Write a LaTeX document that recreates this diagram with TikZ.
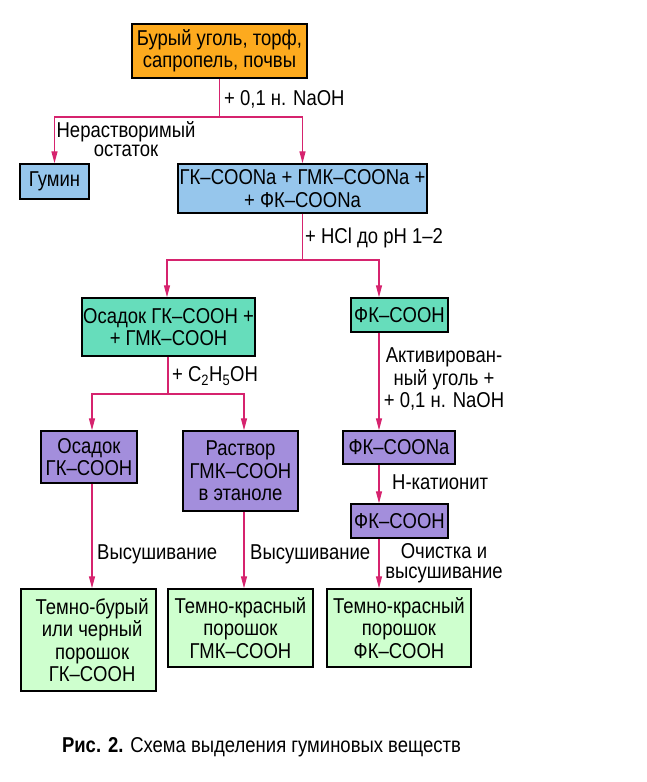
\documentclass[tikz,border=0pt]{standalone}
\usepackage{fontspec}
\setmainfont{Liberation Sans}[FakeStretch=0.86]
\usepackage{tikz}
\usetikzlibrary{arrows.meta}
\usepackage{xcolor}
\definecolor{srcorange}{RGB}{253,170,30}
\definecolor{saltblue}{RGB}{150,198,236}
\definecolor{acidteal}{RGB}{102,221,187}
\definecolor{stagepurple}{RGB}{163,142,220}
\definecolor{powdergreen}{RGB}{206,255,206}
\definecolor{flowred}{RGB}{214,35,110}

\begin{document}
\begin{tikzpicture}[x=1pt,y=-1pt,
    every node/.style={font=\fontsize{21.5pt}{22.3pt}\selectfont},
    box/.style={draw=black,line width=1.4pt,align=center,inner sep=0pt},
    flow/.style={draw=flowred,line width=1.3pt},
    flowarrow/.style={flow,-{Triangle[length=12pt,width=6pt]}},
    lbl/.style={inner sep=0pt,align=center}]
      \useasboundingbox (0,0) rectangle (647,782);
      \node[box,fill=srcorange,minimum width=175pt,minimum height=54pt] (src) at (219.5,51) {Бурый уголь, торф,\\сапропель, почвы};
      \node[box,fill=saltblue,minimum width=69pt,minimum height=35pt] (gumin) at (54.5,181.5) {Гумин};
      \node[box,fill=saltblue,minimum width=249pt,minimum height=49pt] (salts) at (302.5,188.5) {ГК–COONa + ГМК–COONa +\\+ ФК–COONa};
      \node[box,fill=acidteal,minimum width=173pt,minimum height=58pt] (osadok) at (168.5,327) {Осадок ГК–COOH +\\+ ГМК–COOH};
      \node[box,fill=acidteal,minimum width=97pt,minimum height=34pt] (fkacid) at (399.5,315) {ФК–COOH};
      \node[box,fill=stagepurple,minimum width=96pt,minimum height=52pt] (gkacid) at (89,457) {Осадок\\ГК–COOH};
      \node[box,fill=stagepurple,minimum width=115pt,minimum height=80pt] (rastvor) at (240.5,471) {Раствор\\ГМК–COOH\\в этаноле};
      \node[box,fill=stagepurple,minimum width=112pt,minimum height=33pt] (fksalt) at (399,447.5) {ФК–COONa};
      \node[box,fill=stagepurple,minimum width=97pt,minimum height=34pt] (fkpure) at (399.5,521) {ФК–COOH};
      \node[box,fill=powdergreen,minimum width=135pt,minimum height=102pt] (gkpowder) at (88.5,640) {\,\,Темно-бурый\\\,\,или черный\\\,\,порошок\\\,\,ГК–COOH};
      \node[box,fill=powdergreen,minimum width=145pt,minimum height=78pt] (gmkpowder) at (240.5,628) {Темно-красный\\порошок\\ГМК–COOH};
      \node[box,fill=powdergreen,minimum width=144pt,minimum height=78pt] (fkpowder) at (399,628) {Темно-красный\\порошок\\ФК–COOH};
      \coordinate (split1) at (219.5,117);
      \coordinate (split2) at (302.5,260);
      \coordinate (split3) at (168,394);
      \coordinate (gkcol) at (92,0);
      \coordinate (gmkcol) at (244,0);
      \coordinate (fkcol) at (379,0);
      \draw[flow] (src.south) -- (split1);
      \draw[flowarrow] (split1) -| (gumin.north);
      \draw[flowarrow] (split1) -| (salts.north);
      \draw[flow] (salts.south) -- (split2);
      \draw[flowarrow] (split2) -| (osadok.north -| 167,0);
      \draw[flowarrow] (split2) -| (fkacid.north -| fkcol);
      \draw[flow] (osadok.south -| split3) -- (split3);
      \draw[flowarrow] (split3) -| (gkacid.north -| gkcol);
      \draw[flowarrow] (split3) -| (rastvor.north -| gmkcol);
      \draw[flowarrow] (fkacid.south -| fkcol) -- (fksalt.north -| fkcol);
      \draw[flowarrow] (fksalt.south -| fkcol) -- (fkpure.north -| fkcol);
      \draw[flowarrow] (gkacid.south -| gkcol) -- (gkpowder.north -| gkcol);
      \draw[flowarrow] (rastvor.south -| gmkcol) -- (gmkpowder.north -| gmkcol);
      \draw[flowarrow] (fkpure.south -| fkcol) -- (fkpowder.north -| fkcol);
      \node[lbl,anchor=west] (naoh) at (224,99) {+ 0,1 н. NaOH};
      \node[lbl,font=\fontsize{21.5pt}{19.5pt}\selectfont] (ostatok) at (126,139) {Нерастворимый\\остаток};
      \node[lbl,anchor=west] (hcl) at (305,238) {+ HCl до pH 1–2};
      \node[lbl,anchor=west] (ethanol) at (172,376) {+ C\textsubscript{2}H\textsubscript{5}OH};
      \node[lbl] (ugol) at (444,379) {Активирован-\\ный уголь +\\+ 0,1 н. NaOH};
      \node[lbl,anchor=west] (kationit) at (392,482) {Н-катионит};
      \node[lbl,anchor=west] (dry1) at (97,554) {Высушивание};
      \node[lbl,anchor=west] (dry2) at (250,554) {Высушивание};
      \node[lbl,font=\fontsize{21.5pt}{20.5pt}\selectfont] (ochistka) at (444,563) {Очистка и\\высушивание};
      \node[lbl] (caption) at (261.5,747) {\textbf{Рис. 2.} Схема выделения гуминовых веществ};
    \end{tikzpicture}
\end{document}
